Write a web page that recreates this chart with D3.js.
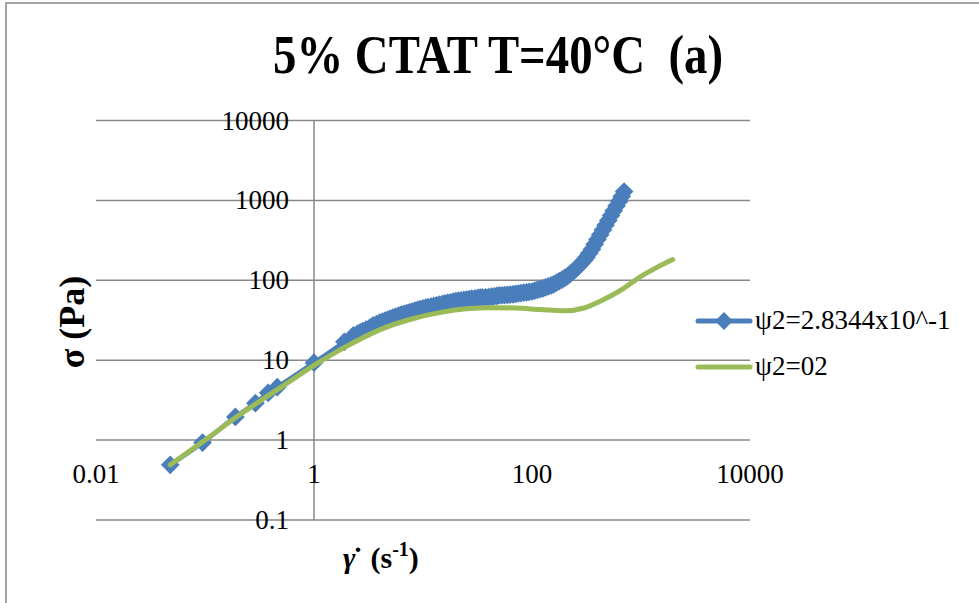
<!DOCTYPE html>
<html>
<head>
<meta charset="utf-8">
<script src="https://cdn.jsdelivr.net/npm/d3@7"></script>
<style>
  body { margin: 0; background: #fff; }
  svg { display: block; }
</style>
</head>
<body>
<script>
// shear rate (1/s) and stress (Pa)
const blueX = [0.048, 0.095, 0.19, 0.29, 0.38, 0.46, 1.0, 1.9, 2.3,
  2.5, 2.65, 2.8, 3.0, 3.2, 3.35, 3.5, 3.75, 4.0, 4.25, 4.5, 4.75, 5.0, 5.3, 5.6, 5.95, 6.3, 6.7, 7.1, 7.5, 7.9, 8.4, 8.9, 9.4,
  10, 10.6, 11.2, 11.9, 12.6, 13.3, 14.1, 15, 15.8, 16.8, 17.8, 18.9,
  20, 21.1, 22.4, 23.7, 25, 26.5, 28, 30, 32, 33.5, 35, 37.5, 40, 42.5, 45, 47.5, 50, 53, 56, 59.5, 63, 67, 71, 75, 79, 84, 89, 94,
  100, 106, 112, 119, 126, 133, 141, 150, 158, 168, 178, 189,
  200, 212, 224, 237, 251, 266, 282, 300, 316, 335, 355, 376, 398, 422, 447, 473, 501, 531, 562, 596, 631, 665, 700];
const blueY = [0.49, 0.93, 1.95, 2.9, 3.9, 4.6, 9.3, 17, 20.5,
  21.4, 22.3, 23.2, 24.2, 25.1, 26.1, 27.2, 28.4, 29.5, 30.4, 31.3, 32.2, 33.1, 34.1, 35.1, 36.1, 37.2, 38.0, 38.9, 39.8, 40.7, 41.7, 42.7, 43.7,
  44.7, 45.4, 46.2, 47.0, 47.9, 48.7, 49.5, 50.4, 51.3, 52.2, 53.1, 54.0,
  55, 55.6, 56.2, 56.8, 57.5, 58.2, 58.9, 59.6, 60.3, 60.6, 61, 61.3, 61.7, 62.4, 63.1, 63.8, 64.6, 65.0, 65.3, 65.7, 66.1, 66.8, 67.6, 68.4, 69.2, 70.0, 70.8, 71.6,
  72.4, 74.1, 75.9, 77.6, 79.4, 81.7, 84.1, 86.6, 89.1, 93.3, 97.7, 102,
  107, 113, 120, 128, 138, 149, 162, 177, 195, 218, 245, 282, 324, 371, 427, 490, 562, 646, 741, 851, 977, 1120, 1290];

const greenX = [0.048, 0.1, 0.2, 0.5, 1, 2, 4, 8, 15, 25, 40, 70, 120, 200, 300, 450, 700, 1000, 1400, 1950];
const greenY = [0.49, 1.0, 2.0, 4.6, 8.6, 15, 24, 33, 40, 44, 45.5, 45, 43, 41.5, 45, 57, 80, 112, 145, 182];

const seriesNames = ["ψ2=2.8344x10^-1", "ψ2=02"];
const xTicks = [0.01, 1, 100, 10000];
const xTickLabels = ["0.01", "1", "100", "10000"];
const yTicks = [0.1, 1, 10, 100, 1000, 10000];
const yTickLabels = ["0.1", "1", "10", "100", "1000", "10000"];

const W = 979, H = 603;
const blue = "#4a7ebb", green = "#9bbb59", grid = "#888888";
const serif = "'Liberation Serif', 'DejaVu Serif', serif";

const svg = d3.select("body").append("svg").attr("width", W).attr("height", H);

// chart frame
svg.append("rect").attr("x", 6).attr("y", 3).attr("width", W + 20).attr("height", H + 20)
  .attr("fill", "#fff").attr("stroke", grid).attr("stroke-width", 1.5);

const x = d3.scaleLog().domain([0.01, 10000]).range([96, 750]);
const y = d3.scaleLog().domain([0.1, 10000]).range([520, 120.5]);

// horizontal gridlines
svg.append("g").selectAll("line").data(yTicks).join("line")
  .attr("x1", x(0.01)).attr("x2", x(10000))
  .attr("y1", d => y(d)).attr("y2", d => y(d))
  .attr("stroke", grid).attr("stroke-width", 1.5);

// vertical axis at x = 1
svg.append("line")
  .attr("x1", x(1)).attr("x2", x(1)).attr("y1", y(10000)).attr("y2", y(0.1))
  .attr("stroke", grid).attr("stroke-width", 1.5);

// y tick labels
svg.append("g").selectAll("text").data(yTicks).join("text")
  .attr("x", x(1) - 25).attr("y", d => y(d) + 9)
  .attr("text-anchor", "end")
  .attr("font-family", serif).attr("font-size", 27)
  .text((d, i) => yTickLabels[i]);

// x tick labels below the axis line at y = 1
svg.append("g").selectAll("text").data(xTicks).join("text")
  .attr("x", d => x(d)).attr("y", y(1) + 43)
  .attr("text-anchor", "middle")
  .attr("font-family", serif).attr("font-size", 27)
  .text((d, i) => xTickLabels[i]);

const line = d3.line().x(d => x(d[0])).y(d => y(d[1])).curve(d3.curveMonotoneX);
const bluePts = blueX.map((v, i) => [v, blueY[i]]);
const greenPts = greenX.map((v, i) => [v, greenY[i]]);

const diamond = d3.symbol().type(d3.symbolSquare).size(175);
const legendDiamond = d3.symbol().type(d3.symbolSquare).size(160);

svg.append("path").datum(bluePts).attr("d", line)
  .attr("fill", "none").attr("stroke", blue).attr("stroke-width", 4.5).attr("stroke-linejoin", "round");
svg.append("g").selectAll("path").data(bluePts).join("path")
  .attr("d", diamond)
  .attr("transform", d => `translate(${x(d[0])},${y(d[1])}) rotate(45)`)
  .attr("fill", blue);

svg.append("path").datum(greenPts).attr("d", line)
  .attr("fill", "none").attr("stroke", green).attr("stroke-width", 5).attr("stroke-linecap", "round");

// legend
const lg = svg.append("g");
[[blue, 321], [green, 367]].forEach(([c, ly], i) => {
  lg.append("line").attr("x1", 698).attr("x2", 750).attr("y1", ly).attr("y2", ly)
    .attr("stroke", c).attr("stroke-width", 5).attr("stroke-linecap", "round");
  if (i === 0) {
    lg.append("path").attr("d", legendDiamond).attr("transform", `translate(724,${ly}) rotate(45)`).attr("fill", c);
  }
  lg.append("text").attr("x", 755).attr("y", ly + 8)
    .attr("font-family", serif).attr("font-size", 27)
    .text(seriesNames[i]);
});

// title
svg.append("text").attr("x", 498).attr("y", 73).attr("text-anchor", "middle")
  .attr("font-family", serif).attr("font-weight", "bold").attr("font-size", 54)
  .attr("textLength", 450).attr("lengthAdjust", "spacingAndGlyphs")
  .style("white-space", "pre")
  .text("5% CTAT T=40°C  (a)");

// y axis title
svg.append("text").attr("transform", "translate(84,322) rotate(-90)")
  .attr("text-anchor", "middle")
  .attr("font-family", serif).attr("font-weight", "bold").attr("font-size", 36)
  .text("σ (Pa)");

// x axis title
const xt = svg.append("text").attr("x", 343).attr("y", 568)
  .attr("font-family", serif).attr("font-weight", "bold").attr("font-size", 30)
  .style("white-space", "pre");
xt.append("tspan").attr("font-style", "italic").text("γ\u0307");
xt.append("tspan").text("  (s");
xt.append("tspan").attr("font-size", 20).attr("dy", -12).text("-1");
xt.append("tspan").attr("dy", 12).text(")");
</script>
</body>
</html>
